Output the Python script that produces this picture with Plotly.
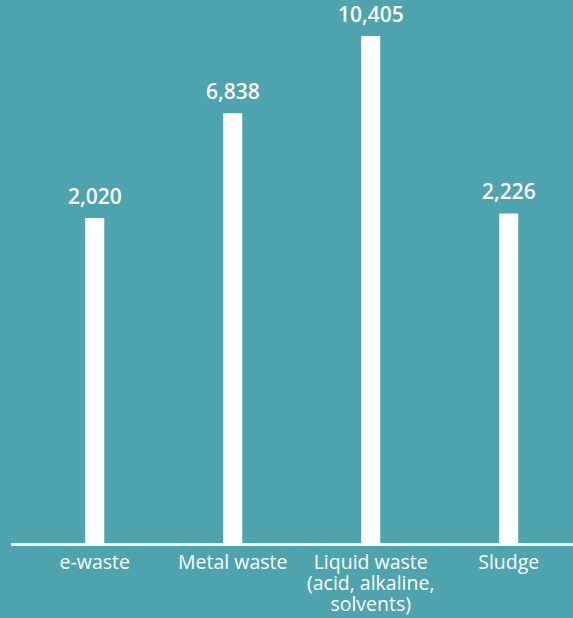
import plotly.graph_objects as go

categories = ["e-waste", "Metal waste", "Liquid waste (acid, alkaline, solvents)", "Sludge"]
category_lines = [["e-waste"], ["Metal waste"], ["Liquid waste", "(acid, alkaline,", "solvents)"], ["Sludge"]]
values = [2020, 6838, 10405, 2226]
value_labels = ["2,020", "6,838", "10,405", "2,226"]

BG = "#4ea4ae"
FLOOR = -12955   # value at which the axis line sits (bars start here)
TOP = 12061

tick_text = ["<br>".join('<span style="font-size:19.5px">%s</span>' % ln for ln in lines)
             for lines in category_lines]

fig = go.Figure()
fig.add_trace(go.Bar(
    x=categories, y=[v - FLOOR for v in values], base=FLOOR,
    marker=dict(color="white", line=dict(width=0)),
    width=0.138, hoverinfo="skip",
))

for c, v, t in zip(categories, values, value_labels):
    fig.add_annotation(x=c, y=v, text=t, showarrow=False, yanchor="bottom", yshift=6,
                       font=dict(family="Open Sans", size=21, color="white", weight=600))

fig.update_layout(
    width=573, height=618,
    paper_bgcolor=BG, plot_bgcolor=BG,
    margin=dict(l=11, r=0, t=0, b=75),
    showlegend=False,
    xaxis=dict(range=[-0.607, 3.466], showgrid=False, zeroline=False, showline=True,
               automargin=False, tickmode="array", tickvals=categories, ticktext=tick_text,
               linecolor="white", linewidth=2.5, ticks="", ticklabelstandoff=3,
               tickfont=dict(family="Open Sans", size=16.5, color="white")),
    yaxis=dict(range=[FLOOR, TOP], visible=False, showgrid=False, zeroline=False,
               automargin=False),
)

fig.write_html("out.html")
